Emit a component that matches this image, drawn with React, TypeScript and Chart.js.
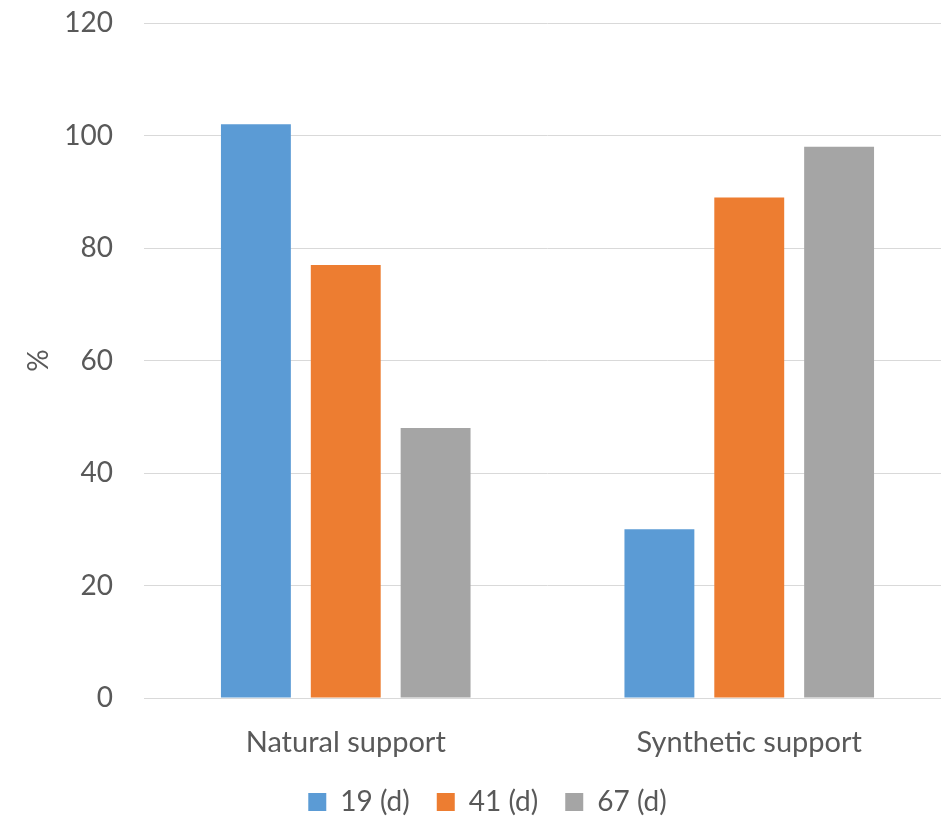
import React, { useEffect, useRef } from 'react';
import { Chart, registerables } from 'chart.js';

Chart.register(...registerables);

const categories = ['Natural support', 'Synthetic support'];
const seriesLabels = ['19 (d)', '41 (d)', '67 (d)'];
const day19 = [102, 30];
const day41 = [77, 89];
const day67 = [48, 98];
const seriesColors = ['#5B9BD5', '#ED7D31', '#A5A5A5'];
const yMin = 0;
const yMax = 120;
const yStep = 20;
const yTitle = '%';

const FONT = 'Lato, "Open Sans", sans-serif';
const TEXT = '#595959';

const shiftLegend = {
  id: 'shiftLegend',
  afterLayout(chart: any) {
    if (chart.legend) {
      chart.legend.left += 12;
      chart.legend.right += 12;
    }
  },
};

export default function App() {
  const ref = useRef<HTMLCanvasElement | null>(null);
  useEffect(() => {
    if (!ref.current) return;
    const values = [day19, day41, day67];
    const chart = new Chart(ref.current, {
      type: 'bar',
      data: {
        labels: categories,
        datasets: seriesLabels.map((l, i) => ({
          label: l,
          data: values[i],
          backgroundColor: seriesColors[i],
          borderWidth: 0,
          barPercentage: 0.778,
          categoryPercentage: 0.668,
        })),
      },
      options: {
        animation: false,
        responsive: false,
        maintainAspectRatio: false,
        layout: { padding: { top: 23, right: 0, bottom: 0, left: 0 } },
        plugins: {
          tooltip: { enabled: false },
          legend: {
            position: 'bottom',
            labels: {
              boxWidth: 18,
              boxHeight: 18,
              padding: 27,
              color: TEXT,
              font: { family: FONT, size: 28 },
            },
          },
        },
        scales: {
          x: {
            grid: { display: false, drawTicks: false },
            border: { display: true, color: '#D9D9D9', width: 1 },
            ticks: { color: TEXT, font: { family: FONT, size: 29 }, padding: 27 },
            afterFit(scale: any) {
              scale.height = 63;
              scale.paddingTop = 0;
              scale.paddingBottom = 0;
            },
          },
          y: {
            min: yMin,
            max: yMax,
            grid: { color: '#D9D9D9', drawTicks: false },
            border: { display: false },
            ticks: {
              stepSize: yStep,
              color: TEXT,
              font: { family: FONT, size: 28 },
              padding: 31,
            },
            title: {
              display: true,
              text: yTitle,
              color: TEXT,
              font: { family: FONT, size: 28 },
              padding: { top: 22, bottom: 0 },
            },
            afterFit(scale: any) {
              scale.width = 144;
              scale.paddingTop = 0;
              scale.paddingBottom = 0;
            },
          },
        },
      },
      plugins: [shiftLegend],
    } as any);
    return () => chart.destroy();
  }, []);
  return (
    <div style={{ position: 'fixed', left: 0, top: 0, width: 951, height: 826, background: '#fff' }}>
      <canvas ref={ref} width={951} height={826} style={{ display: 'block' }} />
    </div>
  );
}
